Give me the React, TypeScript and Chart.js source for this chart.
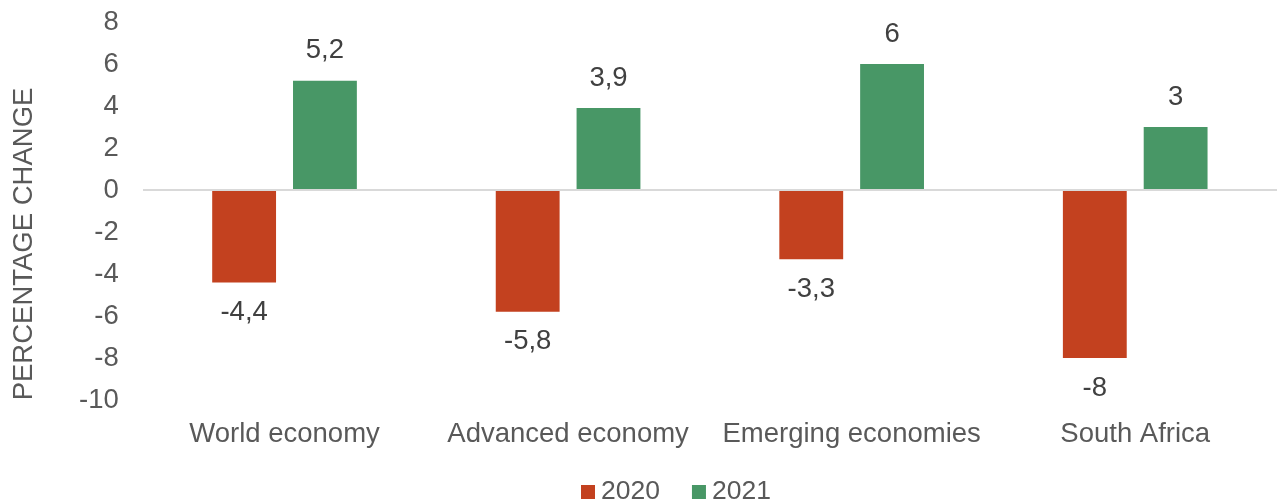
import React, { useEffect, useRef } from "react";
import { Chart, registerables } from "chart.js";

Chart.register(...registerables);

const categories = ["World economy", "Advanced economy", "Emerging economies", "South Africa"];
const values2020 = [-4.4, -5.8, -3.3, -8];
const values2021 = [5.2, 3.9, 6, 3];
const seriesNames = ["2020", "2021"];
const colors = ["#C3411F", "#489766"];
const yTitle = "PERCENTAGE CHANGE";

const fmt = (v: number) => String(v).replace(".", ",");
const FAMILY = "'Liberation Sans', Arial, sans-serif";
const SIZE = 27.5;
const TEXT = "#595959";

const labelPlugin = {
  id: "valueLabels",
  afterDatasetsDraw(chart: any) {
    const ctx = chart.ctx;
    ctx.save();
    ctx.font = `${SIZE}px ${FAMILY}`;
    ctx.fillStyle = "#404040";
    ctx.textAlign = "center";
    ctx.textBaseline = "middle";
    chart.data.datasets.forEach((ds: any, i: number) => {
      const meta = chart.getDatasetMeta(i);
      meta.data.forEach((bar: any, j: number) => {
        const v = ds.data[j];
        const y = v >= 0 ? bar.y - 30 : bar.y + 30;
        ctx.fillText(fmt(v), bar.x, y);
      });
    });
    ctx.restore();
  },
};

const decorPlugin = {
  id: "decor",
  afterDraw(chart: any) {
    const ctx = chart.ctx;
    ctx.save();
    ctx.font = `${SIZE}px ${FAMILY}`;
    ctx.fillStyle = TEXT;
    ctx.translate(24, 244);
    ctx.rotate(-Math.PI / 2);
    ctx.textAlign = "center";
    ctx.textBaseline = "middle";
    ctx.fillText(yTitle, 0, 0);
    ctx.restore();

    ctx.save();
    ctx.font = `26.5px ${FAMILY}`;
    ctx.textBaseline = "middle";
    ctx.textAlign = "left";
    let x = 581;
    const yc = 492;
    chart.data.datasets.forEach((ds: any) => {
      ctx.fillStyle = ds.backgroundColor;
      ctx.fillRect(x, yc - 7, 14, 14);
      ctx.fillStyle = TEXT;
      ctx.fillText(ds.label, x + 20, yc);
      x += 20 + ctx.measureText(ds.label).width + 32;
    });
    ctx.restore();
  },
};

export default function App() {
  const ref = useRef<HTMLCanvasElement | null>(null);
  useEffect(() => {
    if (!ref.current) return;
    const font = { family: FAMILY, size: SIZE };
    const chart = new Chart(ref.current, {
      type: "bar",
      data: {
        labels: categories,
        datasets: [
          { label: seriesNames[0], data: values2020, backgroundColor: colors[0], categoryPercentage: 0.57, barPercentage: 0.79 },
          { label: seriesNames[1], data: values2021, backgroundColor: colors[1], categoryPercentage: 0.57, barPercentage: 0.79 },
        ],
      },
      options: {
        animation: false,
        responsive: true,
        maintainAspectRatio: false,
        layout: { padding: { top: 22, right: 0, left: 55, bottom: 42 } },
        plugins: {
          legend: { display: false },
          tooltip: { enabled: false },
        },
        scales: {
          x: {
            grid: { display: false },
            border: { display: false },
            ticks: { font, color: TEXT, padding: 10 },
            afterFit: (s: any) => { s.paddingLeft = 0; s.paddingRight = 0; },
          },
          y: {
            min: -10,
            max: 8,
            ticks: { stepSize: 2, font, color: TEXT, padding: 24 },
            grid: {
              drawTicks: false,
              lineWidth: 2,
              color: (c: any) => (c.tick && c.tick.value === 0 ? "#D9D9D9" : "transparent"),
            },
            border: { display: false },
            afterFit: (s: any) => { s.paddingTop = 0; s.paddingBottom = 0; },
          },
        },
      },
      plugins: [labelPlugin, decorPlugin],
    });
    return () => chart.destroy();
  }, []);
  return (
    <div style={{ position: "absolute", left: 0, top: 0, width: 1277, height: 503 }}>
      <canvas ref={ref} />
    </div>
  );
}
